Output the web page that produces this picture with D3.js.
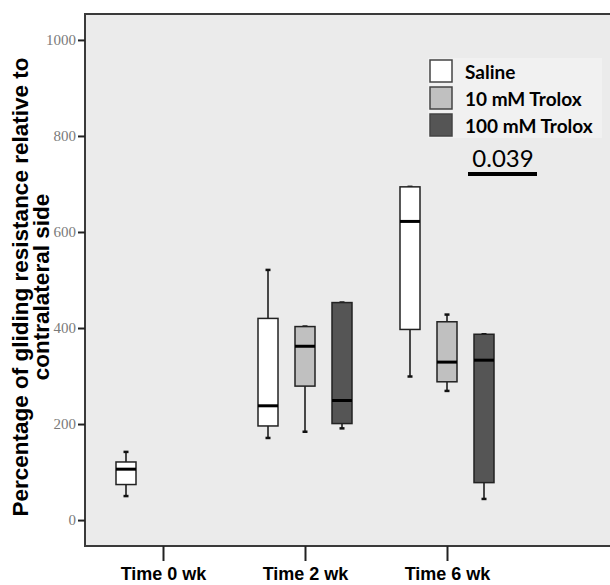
<!DOCTYPE html>
<html>
<head>
<meta charset="utf-8">
<script src="https://cdn.jsdelivr.net/npm/d3@7"></script>
<style>
  html, body { margin: 0; background: #fff; overflow: hidden; }
  svg { display: block; }
</style>
</head>
<body>
<script>
// groups on the x axis and the three treatments
let groups = ["Time 0 wk", "Time 2 wk", "Time 6 wk"];
let series = ["Saline", "10 mM Trolox", "100 mM Trolox"];
let seriesColors = ["#ffffff", "#c0c0c0", "#555555"];
let yTicks = [0, 200, 400, 600, 800, 1000];

// box stats per group: [min, q1, median, q3, max], null = no box
let salineStats = [[50, 74, 106, 121, 142], [171, 196, 238, 420, 521], [299, 397, 622, 694, 694]];
let trolox10Stats = [null, [184, 279, 362, 403, 403], [269, 288, 329, 413, 428]];
let trolox100Stats = [null, [191, 201, 249, 453, 453], [44, 78, 333, 387, 387]];

let pValue = "0.039";

let width = 610, height = 585;
let plotLeft = 85, plotTop = 14, plotRight = 610, plotBottom = 546;

let svg = d3.select("body").append("svg")
    .attr("width", width)
    .attr("height", height);

let y = d3.scaleLinear().domain([-54, 1054]).range([plotBottom, plotTop]);
let x = d3.scalePoint().domain(groups).range([plotLeft + 78, plotLeft + 362]);
let xs = d3.scalePoint().domain(series).range([-37, 37]);
let boxW = 20;

// plot background, frame open on the right (cut off in the original)
svg.append("rect")
    .attr("x", plotLeft).attr("y", plotTop)
    .attr("width", plotRight - plotLeft).attr("height", plotBottom - plotTop)
    .attr("fill", "#ebebeb");
svg.append("path")
    .attr("d", `M${plotRight},${plotTop}H${plotLeft}V${plotBottom}H${plotRight}`)
    .attr("fill", "none")
    .attr("stroke", "#3a3a3a")
    .attr("stroke-width", 2);

// y axis
let yAxis = svg.append("g")
    .attr("transform", `translate(${plotLeft},0)`)
    .call(d3.axisLeft(y).tickValues(yTicks).tickSize(7).tickPadding(2).tickFormat(d3.format("d")));
yAxis.select(".domain").remove();
yAxis.selectAll("line").attr("stroke", "#222").attr("stroke-width", 2);
yAxis.selectAll("text")
    .attr("fill", "#7a7a7a")
    .style("font-family", "'Liberation Serif', 'DejaVu Serif', serif")
    .style("font-size", "15px");

// x axis
let xAxis = svg.append("g")
    .attr("transform", `translate(0,${plotBottom})`)
    .call(d3.axisBottom(x).tickSize(15).tickPadding(6));
xAxis.select(".domain").remove();
xAxis.selectAll("line").attr("stroke", "#222").attr("stroke-width", 2);
xAxis.selectAll("text")
    .attr("fill", "#000")
    .style("font-family", "'Liberation Sans', Arial, sans-serif")
    .style("font-weight", "bold")
    .style("font-size", "18px");

// y axis title
let yTitle = svg.append("text")
    .attr("transform", `translate(28,287) rotate(-90)`)
    .attr("text-anchor", "middle")
    .style("font-family", "'Liberation Sans', Arial, sans-serif")
    .style("font-weight", "bold")
    .style("font-size", "22.5px");
yTitle.append("tspan").attr("x", 0).attr("dy", 0).text("Percentage of gliding resistance relative to");
yTitle.append("tspan").attr("x", 0).attr("dy", 21).text("contralateral side");

// build box rows
let allStats = [salineStats, trolox10Stats, trolox100Stats];
let boxes = [];
series.forEach((s, si) => {
    groups.forEach((g, gi) => {
        let st = allStats[si][gi];
        if (st) boxes.push({group: g, series: s, color: seriesColors[si], v: st});
    });
});

let boxG = svg.append("g");
boxes.forEach(b => {
    let cx = x(b.group) + xs(b.series);
    let g = boxG.append("g");
    // whiskers
    g.append("line")
        .attr("x1", cx).attr("x2", cx)
        .attr("y1", y(b.v[0])).attr("y2", y(b.v[1]))
        .attr("stroke", "#111").attr("stroke-width", 1.5);
    g.append("line")
        .attr("x1", cx).attr("x2", cx)
        .attr("y1", y(b.v[3])).attr("y2", y(b.v[4]))
        .attr("stroke", "#111").attr("stroke-width", 1.5);
    [b.v[0], b.v[4]].forEach(v => {
        g.append("line")
            .attr("x1", cx - 2.5).attr("x2", cx + 2.5)
            .attr("y1", y(v)).attr("y2", y(v))
            .attr("stroke", "#111").attr("stroke-width", 2.5);
    });
    // box
    g.append("rect")
        .attr("x", cx - boxW / 2).attr("y", y(b.v[3]))
        .attr("width", boxW).attr("height", y(b.v[1]) - y(b.v[3]))
        .attr("fill", b.color)
        .attr("stroke", "#222").attr("stroke-width", 1.5);
    // median
    g.append("line")
        .attr("x1", cx - boxW / 2).attr("x2", cx + boxW / 2)
        .attr("y1", y(b.v[2])).attr("y2", y(b.v[2]))
        .attr("stroke", "#000").attr("stroke-width", 3);
});

// legend
let legend = svg.append("g").attr("transform", "translate(430,60)");
legend.append("rect")
    .attr("x", -2).attr("y", -2).attr("width", 174).attr("height", 80)
    .attr("fill", "#f1f1f1");
series.forEach((s, i) => {
    let row = legend.append("g").attr("transform", `translate(0,${i * 27})`);
    row.append("rect")
        .attr("width", 22).attr("height", 22)
        .attr("fill", seriesColors[i])
        .attr("stroke", "#444").attr("stroke-width", 1.5);
    row.append("text")
        .attr("x", 35).attr("y", 19)
        .style("font-family", "Lato, 'Open Sans', sans-serif")
        .style("font-weight", "bold")
        .style("font-size", "19px")
        .text(s);
});

// significance marker
svg.append("text")
    .attr("x", 503).attr("y", 167)
    .attr("text-anchor", "middle")
    .style("font-family", "Lato, 'Open Sans', sans-serif")
    .style("font-size", "24px")
    .text(pValue);
svg.append("line")
    .attr("x1", 468).attr("x2", 537)
    .attr("y1", 174).attr("y2", 174)
    .attr("stroke", "#000").attr("stroke-width", 4);
</script>
</body>
</html>
